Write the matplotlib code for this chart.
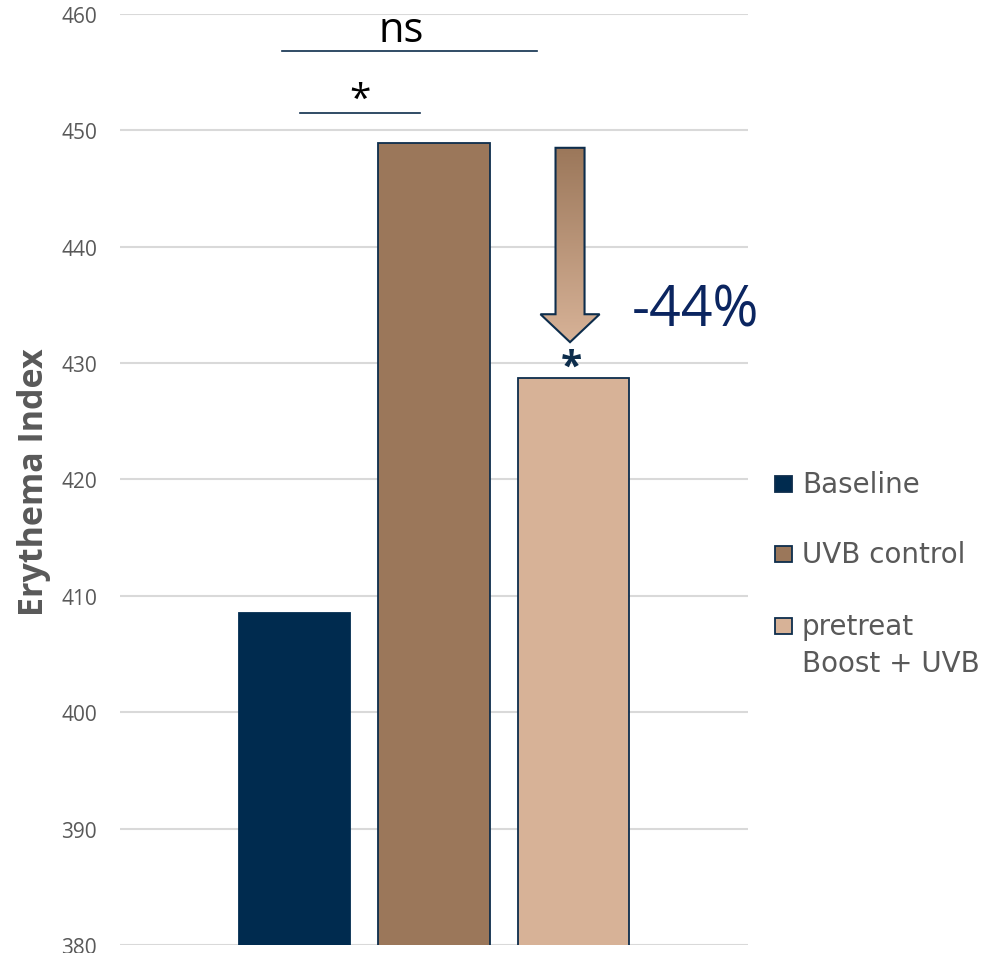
import numpy as np
import matplotlib
matplotlib.use("Agg")
import matplotlib.pyplot as plt
from matplotlib.patches import Polygon, Rectangle
from matplotlib.colors import LinearSegmentedColormap

# data
groups = ["Baseline", "UVB control", "pretreat\nBoost + UVB"]
values = [408.5, 448.9, 428.75]
colors = ["#002b4f", "#9b775a", "#d7b297"]
edge = "#0d2d4c"
yticks = [380, 390, 400, 410, 420, 430, 440, 450, 460]
reduction_label = "-44%"

plt.rcParams["font.family"] = ["Open Sans", "DejaVu Sans"]

fig = plt.figure(figsize=(9.95, 9.54), dpi=100)
ax = fig.add_axes([0.1206, 0.0084, 0.6312, 0.9759])

x = np.arange(len(groups))
ax.bar(x, values, width=0.796, color=colors, edgecolor=[colors[0], edge, edge],
       linewidth=1.3, zorder=3)

ax.set_ylim(380, 460)
ax.set_xlim(-1.251, 3.251)
ax.set_yticks(yticks)
ax.set_xticks([])
ax.yaxis.grid(True, color="#d9d9d9", linewidth=1.5, zorder=0)
ax.tick_params(axis="y", length=0, pad=16.5, labelsize=15, labelcolor="#595959")
for s in ax.spines.values():
    s.set_visible(False)
fig.text(34 / 995, 1 - 482 / 954, "Erythema Index", rotation=90, ha="center",
         va="center", fontsize=24.5, fontweight="bold", color="#595959")

# significance brackets
ax.plot([-0.09, 1.74], [456.8, 456.8], color=edge, lw=1.2, zorder=4)
ax.text(0.763, 457.66, "ns", ha="center", va="baseline", fontsize=30, color="black")
ax.plot([0.04, 0.90], [451.5, 451.5], color=edge, lw=1.2, zorder=4)
ax.text(0.47, 451.75, "*", ha="center", va="baseline", fontsize=28, color="black")

# gradient arrow above the pretreat bar
cx, top, neck, tip = 1.975, 448.5, 434.2, 431.8
sw, hw = 0.104, 0.212
pts = [(cx - sw, top), (cx + sw, top), (cx + sw, neck), (cx + hw, neck),
       (cx, tip), (cx - hw, neck), (cx - sw, neck)]
arrow = Polygon(pts, closed=True, facecolor="none", edgecolor=edge, lw=1.5, zorder=6)
ax.add_patch(arrow)
cmap = LinearSegmentedColormap.from_list("g", [colors[1], colors[2]])
grad = np.linspace(0, 1, 256).reshape(-1, 1)
im = ax.imshow(grad, cmap=cmap, aspect="auto", extent=[cx - hw, cx + hw, tip, top],
               origin="upper", zorder=5)
im.set_clip_path(arrow)
ax.set_xlim(-1.251, 3.251)
ax.set_ylim(380, 460)

ax.text(1.985, values[2], "*", ha="center", va="baseline", fontsize=28,
        fontweight="bold", color="#0d2d4c")
ax.text(2.416, 433.2, reduction_label, ha="left", va="baseline", fontsize=40,
        color="#0b2560")

# legend drawn by hand so the box sits on the first text line
leg_base = [493, 563, 635]
for lab, c, yb in zip(groups, colors, leg_base):
    fig.patches.append(Rectangle((775 / 995, 1 - 493 / 954 + (493 - yb) / 954),
                                 17 / 995, 16 / 954, transform=fig.transFigure,
                                 facecolor=c, edgecolor=edge, lw=1.3))
    for i, line in enumerate(lab.split("\n")):
        fig.text(802 / 995, 1 - (yb + 37 * i) / 954, line, ha="left", va="baseline",
                 fontsize=20, color="#595959", family=["DejaVu Sans"])

fig.savefig("out.png", dpi=100)
